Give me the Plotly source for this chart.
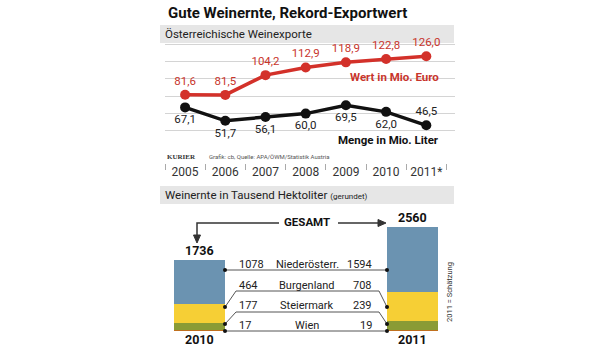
import plotly.graph_objects as go

# ---------------- data ----------------
years = [2005, 2006, 2007, 2008, 2009, 2010, 2011]
year_labels = ["2005", "2006", "2007", "2008", "2009", "2010", "2011*"]
wert = [81.6, 81.5, 104.2, 112.9, 118.9, 122.8, 126.0]      # Mio. Euro
menge = [67.1, 51.7, 56.1, 60.0, 69.5, 62.0, 46.5]          # Mio. Liter
grid_values = [40, 60, 80, 100, 120, 140]

harvest_years = ["2010", "2011"]
regions = ["Niederösterr.", "Burgenland", "Steiermark", "Wien"]
harvest_2010 = [1078, 464, 177, 17]
harvest_2011 = [1594, 708, 239, 19]
region_colors = ["#6b93b1", "#f6cf35", "#8a9b35", "#c0701e"]

W, H = 616, 347
def X(px):
    return px / W
def Y(py):
    return 1 - py / H

COND = "Roboto, Liberation Sans, Arial, sans-serif"
RED = "#d3312a"
DARK = "#222222"

fig = go.Figure()

# ---------------- top: export lines ----------------
fig.add_trace(go.Scatter(
    x=years, y=wert, mode="lines+markers+text",
    line=dict(color=RED, width=3.5), marker=dict(color=RED, size=10),
    text=wert, texttemplate="%{y:.1f}", textposition="top center",
    textfont=dict(family=COND, size=11.5, color="#c8352c"),
    xaxis="x", yaxis="y", cliponaxis=False, showlegend=False))

menge_pos = ["bottom center"] * (len(menge) - 1) + ["top center"]
fig.add_trace(go.Scatter(
    x=years, y=menge, mode="lines+markers+text",
    line=dict(color="#111111", width=3.5), marker=dict(color="#111111", size=10),
    text=menge, texttemplate="%{y:.1f}", textposition=menge_pos,
    textfont=dict(family=COND, size=11.5, color=DARK),
    xaxis="x", yaxis="y", cliponaxis=False, showlegend=False))

# ---------------- bottom: harvest bars ----------------
series_by_region = list(zip(harvest_2010, harvest_2011))
for i in reversed(range(len(regions))):
    fig.add_trace(go.Bar(
        x=[0, 1], y=list(series_by_region[i]), width=0.239,
        marker=dict(color=region_colors[i], line=dict(width=0)),
        name=regions[i], xaxis="x2", yaxis="y2", showlegend=False))

totals = [sum(harvest_2010), sum(harvest_2011)]

fig.update_layout(
    width=W, height=H, margin=dict(l=0, r=0, t=0, b=0),
    paper_bgcolor="white", plot_bgcolor="white",
    separators=",.", barmode="stack", bargap=0,
    xaxis=dict(domain=[X(165), X(455)], range=[2004.5, 2011.714],
               tickvals=years, ticktext=year_labels, ticks="",
               showgrid=False, zeroline=False, showline=False,
               tickfont=dict(family=COND, size=12, color="#333"),
               minor=dict(tickvals=[y - 0.5 for y in years] + [years[-1] + 0.5],
                          ticks="outside", ticklen=6, tickcolor="#aaa", tickwidth=1,
                          showgrid=False)),
    yaxis=dict(domain=[Y(163), Y(42)], range=[3.2, 142.3],
               tickvals=grid_values, showticklabels=False,
               showgrid=True, gridcolor="#d4d4d4", gridwidth=1,
               zeroline=False, showline=False),
    xaxis2=dict(domain=[X(165), X(455)], range=[-0.1593, 1.199], visible=False),
    yaxis2=dict(domain=[Y(331), Y(200)], range=[0, 3219], visible=False),
)

shapes = []
ann = []

# gray header bands
for y0, y1 in [(25, 43), (186, 204)]:
    shapes.append(dict(type="rect", xref="paper", yref="paper",
                       x0=X(160), x1=X(454), y0=Y(y1), y1=Y(y0),
                       fillcolor="#e6e6e6", line=dict(width=0), layer="below"))

ann.append(dict(text="<b>Gute Weinernte, Rekord-Exportwert</b>", xref="paper", yref="paper",
                x=X(166), y=Y(13), xanchor="left", yanchor="middle", showarrow=False,
                font=dict(family=COND, size=15, color="#111")))
ann.append(dict(text="Österreichische Weinexporte", xref="paper", yref="paper",
                x=X(163), y=Y(34), xanchor="left", yanchor="middle", showarrow=False,
                font=dict(family=COND, size=11.5, color="#222")))
ann.append(dict(text="Weinernte in Tausend Hektoliter <span style='font-size:8px'>(gerundet)</span>",
                xref="paper", yref="paper",
                x=X(163), y=Y(195), xanchor="left", yanchor="middle", showarrow=False,
                font=dict(family=COND, size=11.5, color="#222")))
ann.append(dict(text="<b>Wert in Mio. Euro</b>", xref="paper", yref="paper",
                x=X(441), y=Y(77), xanchor="right", yanchor="middle", showarrow=False,
                font=dict(family=COND, size=11.5, color="#c8352c")))
ann.append(dict(text="<b>Menge in Mio. Liter</b>", xref="paper", yref="paper",
                x=X(441), y=Y(140), xanchor="right", yanchor="middle", showarrow=False,
                font=dict(family=COND, size=11.5, color="#111")))
ann.append(dict(text="<b>KURIER</b>", xref="paper", yref="paper",
                x=X(165), y=Y(157), xanchor="left", yanchor="middle", showarrow=False,
                font=dict(family="Liberation Serif, DejaVu Serif, serif", size=7, color="#333")))
ann.append(dict(text="Grafik: cb, Quelle: APA/ÖWM/Statistik Austria", xref="paper", yref="paper",
                x=X(207), y=Y(157), xanchor="left", yanchor="middle", showarrow=False,
                font=dict(family=COND, size=6, color="#555")))

# totals and year labels on bars
for i, t in enumerate(totals):
    ann.append(dict(text=f"<b>{t}</b>", xref="x2", yref="y2", x=i, y=t,
                    xanchor="center", yanchor="bottom", yshift=0, showarrow=False,
                    font=dict(family=COND, size=12.5, color="#111")))
    ann.append(dict(text=f"<b>{harvest_years[i]}</b>", xref="x2", yref="y2", x=i, y=0,
                    xanchor="center", yanchor="top", yshift=1, showarrow=False,
                    font=dict(family=COND, size=12.5, color="#111")))

# GESAMT with arrows
ann.append(dict(text="<b>GESAMT</b>", xref="paper", yref="paper",
                x=X(307), y=Y(222), xanchor="center", yanchor="middle", showarrow=False,
                font=dict(family=COND, size=11.5, color="#111")))
LC = "#333"
shapes.append(dict(type="path", xref="paper", yref="paper",
                   path=f"M {X(279)} {Y(223)} L {X(197)} {Y(223)} L {X(197)} {Y(236)}",
                   line=dict(color=LC, width=1.5)))
shapes.append(dict(type="path", xref="paper", yref="paper",
                   path=f"M {X(193.5)} {Y(235)} L {X(200.5)} {Y(235)} L {X(197)} {Y(243)} Z",
                   fillcolor=LC, line=dict(color=LC, width=1)))
shapes.append(dict(type="line", xref="paper", yref="paper",
                   x0=X(338), x1=X(379), y0=Y(223), y1=Y(223), line=dict(color=LC, width=1.5)))
shapes.append(dict(type="path", xref="paper", yref="paper",
                   path=f"M {X(378)} {Y(219.5)} L {X(378)} {Y(226.5)} L {X(386)} {Y(223)} Z",
                   fillcolor=LC, line=dict(color=LC, width=1)))

# leader lines (layout positions)
row_line_y = [270, 291, 312, 331]
row_dot_y = [270, 307, 324, 331]
row_text_y = [264, 285, 305, 325]
xl, xr = 225, 387
for i in range(len(regions)):
    ly, dy = row_line_y[i], row_dot_y[i]
    if ly == dy:
        path = f"M {X(xl)} {Y(dy)} L {X(xr)} {Y(dy)}"
    else:
        path = (f"M {X(xl)} {Y(dy)} L {X(236)} {Y(ly)} L {X(379)} {Y(ly)} "
                f"L {X(xr)} {Y(dy)}")
    shapes.append(dict(type="path", xref="paper", yref="paper", path=path,
                       line=dict(color="#555", width=1)))
    for cx in (xl, xr):
        shapes.append(dict(type="circle", xref="paper", yref="paper",
                           x0=X(cx - 2), x1=X(cx + 2), y0=Y(dy + 2), y1=Y(dy - 2),
                           fillcolor="#111", line=dict(width=0)))
    ann.append(dict(text=str(harvest_2010[i]), xref="paper", yref="paper",
                    x=X(237), y=Y(row_text_y[i]), xanchor="left", yanchor="middle",
                    showarrow=False, font=dict(family=COND, size=11, color="#222")))
    ann.append(dict(text=regions[i], xref="paper", yref="paper",
                    x=X(307), y=Y(row_text_y[i]), xanchor="center", yanchor="middle",
                    showarrow=False, font=dict(family=COND, size=11, color="#222")))
    ann.append(dict(text=str(harvest_2011[i]), xref="paper", yref="paper",
                    x=X(374), y=Y(row_text_y[i]), xanchor="right", yanchor="middle",
                    showarrow=False, font=dict(family=COND, size=11, color="#222")))

ann.append(dict(text="2011 = Schätzung", xref="paper", yref="paper",
                x=X(449), y=Y(292), xanchor="center", yanchor="middle", textangle=-90,
                showarrow=False, font=dict(family=COND, size=7.5, color="#333")))

fig.update_layout(shapes=shapes, annotations=ann)
fig.write_html("out.html")
